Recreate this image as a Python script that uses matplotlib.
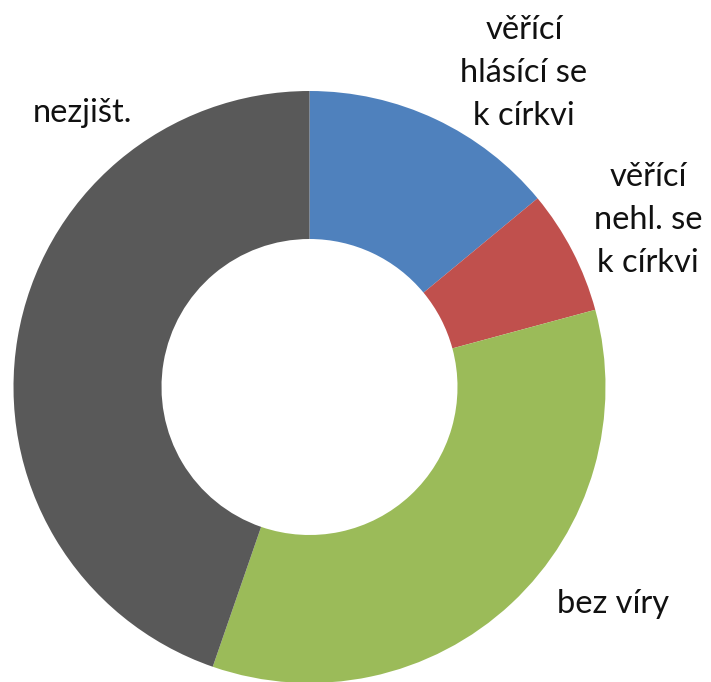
import matplotlib.pyplot as plt

# data (percent)
labels = ["věřící\nhlásící se\nk církvi", "věřící\nnehl. se\nk církvi", "bez víry", "nezjišt."]
shares = [14.0, 6.8, 34.5, 44.7]
colors = ["#4F81BD", "#C0504D", "#9BBB59", "#595959"]

# label anchor (pixel x centre, pixel y baseline of first line)
labelPos = [(524, 39), (648, 186), (613, 613), (82, 122)]
lineStep = 43

W, H = 711, 682
fig = plt.figure(figsize=(W / 100, H / 100), dpi=100)

cx, cy, r = 309.5, 387, 296
ax = fig.add_axes([(cx - r) / W, (H - cy - r) / H, 2 * r / W, 2 * r / H])
ax.pie(shares, colors=colors, startangle=90, counterclock=False, radius=1,
       wedgeprops=dict(width=0.5, linewidth=0))
ax.set_xlim(-1, 1)
ax.set_ylim(-1, 1)
ax.set_aspect("equal")
ax.axis("off")

for text, (px, py) in zip(labels, labelPos):
    for i, line in enumerate(text.split("\n")):
        fig.text(px / W, 1 - (py + i * lineStep) / H, line, ha="center", va="baseline",
                 fontsize=23.5, family=["Lato", "DejaVu Sans"], color="#111111")

fig.savefig("out.png", dpi=100)
